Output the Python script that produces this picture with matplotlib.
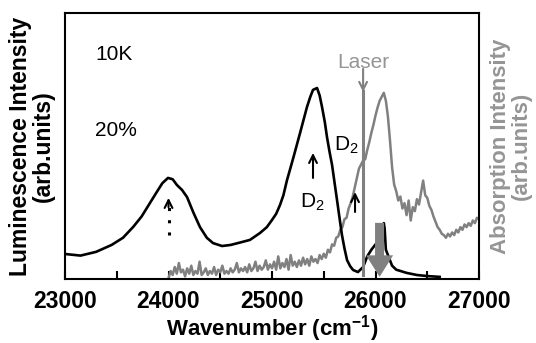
import matplotlib
matplotlib.use('Agg')
import matplotlib.pyplot as plt
from matplotlib.patches import FancyArrowPatch, ArrowStyle

plt.rcParams['font.family'] = ['Liberation Sans', 'DejaVu Sans']
plt.rcParams['mathtext.fontset'] = 'custom'
plt.rcParams['mathtext.rm'] = 'Liberation Sans'
plt.rcParams['mathtext.bf'] = 'Liberation Sans:bold'

# luminescence (black)
lum_wn = [23000, 23150, 23300, 23450, 23560, 23657, 23740, 23821, 23880, 23940,
          23995, 24040, 24082, 24130, 24179, 24240, 24304, 24370, 24430, 24517,
          24600, 24700, 24787, 24884, 24950, 25000, 25040, 25077, 25110, 25145,
          25180, 25213, 25271, 25338, 25370, 25396, 25435, 25460, 25483, 25510,
          25531, 25555, 25580, 25605, 25628, 25652, 25676, 25700, 25725, 25755,
          25783, 25830, 25880, 25920, 25960, 26000, 26040, 26070, 26080, 26088,
          26100, 26130, 26160, 26200, 26300, 26400, 26500, 26620]
lum_val = [9.4, 8.8, 10.2, 12.8, 15.5, 19.5, 23.5, 28.6, 32.3, 36.0,
           38.0, 37.5, 35.3, 33.5, 30.8, 25.0, 19.5, 15.5, 13.5, 12.4,
           12.8, 13.8, 14.7, 17.3, 19.5, 22.2, 24.5, 27.8, 31.5, 37.2,
           42.0, 46.6, 54.9, 64.7, 68.5, 71.1, 71.8, 69.0, 64.7, 59.0,
           53.4, 48.0, 42.9, 36.0, 29.7, 23.0, 16.5, 11.5, 7.1, 4.8,
           3.4, 2.6, 4.5, 8.5, 11.0, 13.0, 15.0, 18.0, 21.0, 19.0,
           11.0, 8.0, 5.0, 3.5, 2.3, 1.5, 1.1, 0.8]

# absorption (gray), 20 cm-1 steps from 24000 to 27000
abs_wn = list(range(24000, 27001, 20))
abs_val = [0.3, 3.0, 1.5, 4.5, 2.0, 6.0, 2.5, 3.5, 1.0, 4.0,
           2.0, 5.0, 1.5, 3.0, 2.0, 6.5, 1.5, 2.5, 4.0, 1.5,
           3.0, 2.0, 4.5, 1.5, 3.5, 2.5, 5.0, 2.0, 3.0, 2.0,
           4.0, 2.5, 3.5, 6.0, 2.5, 4.0, 3.0, 4.5, 2.5, 5.5,
           3.0, 4.0, 6.5, 3.0, 5.0, 3.5, 4.5, 7.0, 3.5, 5.5,
           4.0, 6.5, 3.5, 8.5, 4.0, 6.0, 4.5, 7.5, 3.5, 9.0,
           5.0, 6.5, 4.5, 7.0, 5.0, 8.0, 5.5, 7.5, 5.0, 8.5,
           6.5, 7.5, 6.0, 9.0, 7.5, 9.5, 8.0, 11.0, 10.0, 13.0,
           12.5, 15.5, 16.0, 18.5, 19.5, 22.5, 23.0, 26.5, 28.5, 31.0,
           34.5, 38.0, 41.5, 43.0, 44.5, 45.0, 48.5, 51.5, 55.0, 58.0,
           61.5, 64.5, 67.0, 68.5, 70.0, 67.0, 61.0, 52.0, 42.0, 35.5,
           33.0, 29.5, 31.0, 26.5, 28.5, 24.0, 29.5, 22.0, 27.0, 25.5,
           30.0, 28.0, 32.5, 37.0, 31.5, 30.5, 27.5, 26.0, 23.5, 21.5,
           19.5, 18.5, 17.0, 16.5, 15.5, 17.0, 16.0, 17.5, 16.5, 18.5,
           17.5, 19.5, 18.5, 20.5, 19.5, 21.0, 20.0, 22.0, 21.0, 23.0,
           22.5]

laser_wn = 25880
xticks = [23000, 24000, 25000, 26000, 27000]

gray = '#808080'
lgray = '#959595'

fig = plt.figure(figsize=(5.36, 3.43), dpi=100)
ax = fig.add_axes([0.1213, 0.1866, 0.7724, 0.7755])

ax.plot(abs_wn, abs_val, color=gray, lw=1.8, zorder=2)
ax.plot(lum_wn, lum_val, color='black', lw=1.9, zorder=3)

# laser line + arrow
ax.plot([laser_wn, laser_wn], [1.5, 70.5], color=gray, lw=2.2, zorder=4)
ax.annotate('', xy=(laser_wn, 70.3), xytext=(laser_wn, 79.0),
            arrowprops=dict(arrowstyle='->', color=gray, lw=1.5,
                            shrinkA=0, shrinkB=0, mutation_scale=14))
ax.text(laser_wn, 81.5, 'Laser', color=lgray, fontsize=15, ha='center', va='center')

# fat gray arrow at the laser-scatter spike
fat = FancyArrowPatch((26039, 21.1), (26039, 0.8),
                      arrowstyle=ArrowStyle('Simple', head_length=15.5,
                                            head_width=19.5, tail_width=6.5),
                      mutation_scale=1, shrinkA=0, shrinkB=0,
                      color=gray, lw=0, zorder=5)
ax.add_patch(fat)

# D2 arrows
ax.annotate('', xy=(25396, 47.4), xytext=(25396, 38.0),
            arrowprops=dict(arrowstyle='->', color='black', lw=1.5,
                            shrinkA=0, shrinkB=0, mutation_scale=14))
ax.text(25386, 28.9, 'D$_2$', fontsize=15, ha='center', va='center')
ax.annotate('', xy=(25802, 32.7), xytext=(25802, 25.2),
            arrowprops=dict(arrowstyle='->', color='black', lw=1.5,
                            shrinkA=0, shrinkB=0, mutation_scale=14))
ax.text(25720, 50.4, 'D$_2$', fontsize=15, ha='center', va='center')

# dotted arrow at 24000
ax.plot([24000, 24000], [16.5, 28.0], color='black', lw=2.2, ls=(0, (1, 3)))
ax.annotate('', xy=(24000, 30.5), xytext=(24000, 27.0),
            arrowprops=dict(arrowstyle='->', color='black', lw=1.5,
                            shrinkA=0, shrinkB=0, mutation_scale=14))

ax.text(23290, 84.5, '10K', fontsize=15, va='center')
ax.text(23290, 56.0, '20%', fontsize=15, va='center')

ax.set_xlim(23000, 27000)
ax.set_ylim(0, 100)
ax.set_xticks(range(23000, 27001, 500))
ax.set_xticklabels([str(t) if t in xticks else '' for t in range(23000, 27001, 500)],
                   fontsize=16.5, fontweight='bold')
ax.set_yticks([])
ax.tick_params(axis='x', direction='in', length=6, width=1.5, pad=8)
for s in ax.spines.values():
    s.set_linewidth(1.5)

ax.set_xlabel('Wavenumber (cm$^{\\mathbf{-1}}$)', fontsize=16, fontweight='bold', labelpad=0)

fig.text(32 / 536, 1 - 146 / 343, 'Luminescence Intensity\n(arb.units)', rotation=90,
         fontsize=16.5, fontweight='bold', ha='center', va='center',
         multialignment='center', linespacing=1.0)
fig.text(511 / 536, 1 - 146 / 343, 'Absorption Intensity\n(arb.units)', rotation=90,
         fontsize=16, fontweight='bold', ha='center', va='center', color=lgray,
         multialignment='center', linespacing=1.0)

fig.savefig('out.png', dpi=100)
